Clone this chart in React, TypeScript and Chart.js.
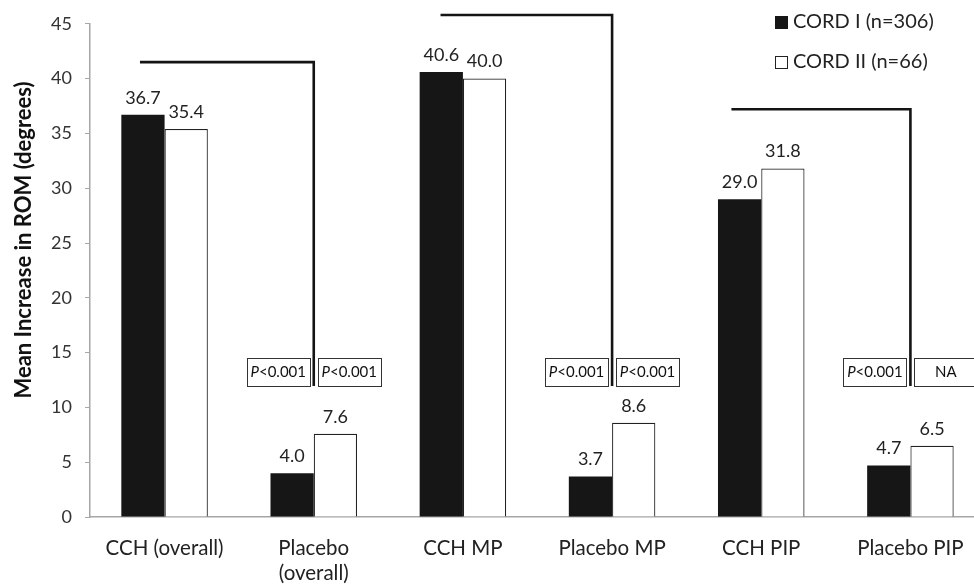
import { useEffect, useRef } from 'react';
import { Chart, registerables } from 'chart.js';

Chart.register(...registerables);

const FONT = 'Lato, "Open Sans", sans-serif';

const categories: string[][] = [
  ['CCH (overall)'],
  ['Placebo', '(overall)'],
  ['CCH MP'],
  ['Placebo MP'],
  ['CCH PIP'],
  ['Placebo PIP'],
];
const cord1Values = [36.7, 4.0, 40.6, 3.7, 29.0, 4.7];
const cord2Values = [35.4, 7.6, 40.0, 8.6, 31.8, 6.5];
const seriesNames = ['CORD I (n=306)', 'CORD II (n=66)'];
const yTickValues = [0, 5, 10, 15, 20, 25, 30, 35, 40, 45];
const yAxisTitle = 'Mean Increase in ROM (degrees)';

// comparison brackets: from CCH category to its placebo category
const bracketPairs = [
  [0, 1],
  [2, 3],
  [4, 5],
];
const bracketHeights = [41.5, 45.8, 37.2];
const bracketBottom = 11.95;
const boxTop = 14.5;
const pLabelsCord1 = ['P<0.001', 'P<0.001', 'P<0.001'];
const pLabelsCord2 = ['P<0.001', 'P<0.001', 'NA'];

const bracketStartOffsets = [-0.165, -0.15, -0.2];

function drawPLabel(ctx: CanvasRenderingContext2D, text: string, cx: number, cy: number) {
  ctx.textBaseline = 'middle';
  ctx.textAlign = 'left';
  const size = 15;
  if (text.startsWith('P')) {
    const rest = text.slice(1);
    ctx.font = `italic ${size}px ${FONT}`;
    const wP = ctx.measureText('P').width;
    ctx.font = `${size}px ${FONT}`;
    const wR = ctx.measureText(rest).width;
    const x0 = cx - (wP + wR) / 2;
    ctx.font = `italic ${size}px ${FONT}`;
    ctx.fillText('P', x0, cy);
    ctx.font = `${size}px ${FONT}`;
    ctx.fillText(rest, x0 + wP, cy);
  } else {
    ctx.font = `${size}px ${FONT}`;
    ctx.textAlign = 'center';
    ctx.fillText(text, cx, cy);
  }
}

const annotationPlugin = {
  id: 'annotations',
  afterDatasetsDraw(chart: any) {
    const ctx: CanvasRenderingContext2D = chart.ctx;
    const xs = chart.scales.x;
    const ys = chart.scales.y;
    ctx.save();
    // value labels
    ctx.font = `18px ${FONT}`;
    ctx.fillStyle = '#222';
    ctx.textAlign = 'center';
    ctx.textBaseline = 'middle';
    chart.data.datasets.forEach((ds: any, di: number) => {
      const meta = chart.getDatasetMeta(di);
      meta.data.forEach((el: any, i: number) => {
        ctx.fillText(Number(ds.data[i]).toFixed(1), el.x, el.y - 17);
      });
    });

    // brackets and p-value boxes
    const catW = xs.getPixelForValue(1) - xs.getPixelForValue(0);
    const boxW = 63;
    const gap = 4;
    bracketPairs.forEach(([a, b], k) => {
      const xStart = xs.getPixelForValue(a) + bracketStartOffsets[k] * catW;
      const xEnd = xs.getPixelForValue(b);
      const yh = ys.getPixelForValue(bracketHeights[k]);
      const yb = ys.getPixelForValue(bracketBottom);
      ctx.beginPath();
      ctx.lineWidth = 2.6;
      ctx.strokeStyle = '#141414';
      ctx.lineJoin = 'miter';
      ctx.moveTo(xStart, yh);
      ctx.lineTo(xEnd, yh);
      ctx.lineTo(xEnd, yb);
      ctx.stroke();

      const bt = ys.getPixelForValue(boxTop);
      const bb = ys.getPixelForValue(bracketBottom);
      ctx.lineWidth = 1;
      ctx.strokeStyle = '#333';
      ctx.fillStyle = '#fff';
      const l1 = xEnd - gap - boxW;
      const l2 = xEnd + gap;
      [l1, l2].forEach((lx) => {
        ctx.fillRect(lx, bt, boxW, bb - bt);
        ctx.strokeRect(Math.round(lx) + 0.5, Math.round(bt) + 0.5, boxW, Math.round(bb - bt));
      });
      ctx.fillStyle = '#111';
      drawPLabel(ctx, pLabelsCord1[k], l1 + boxW / 2, (bt + bb) / 2);
      drawPLabel(ctx, pLabelsCord2[k], l2 + boxW / 2, (bt + bb) / 2);
    });
    ctx.restore();
  },
  afterDraw(chart: any) {
    const ctx: CanvasRenderingContext2D = chart.ctx;
    ctx.save();
    // legend
    const colors = ['#161616', '#ffffff'];
    const rowsY = [22, 62];
    seriesNames.forEach((name, i) => {
      const y = rowsY[i];
      ctx.fillStyle = colors[i];
      ctx.fillRect(775, y - 6, 13, 13);
      if (i === 1) {
        ctx.strokeStyle = '#222';
        ctx.lineWidth = 1;
        ctx.strokeRect(775.5, y - 5.5, 12, 12);
      }
      ctx.fillStyle = '#222';
      ctx.font = `20px ${FONT}`;
      ctx.textAlign = 'left';
      ctx.textBaseline = 'middle';
      ctx.fillText(name, 793, y);
    });
    // y axis title
    ctx.translate(24, 240);
    ctx.rotate(-Math.PI / 2);
    ctx.font = `bold 22px ${FONT}`;
    ctx.fillStyle = '#111';
    ctx.textAlign = 'center';
    ctx.textBaseline = 'middle';
    ctx.fillText(yAxisTitle, 0, 0);
    ctx.restore();
  },
};

export default function App() {
  const canvasRef = useRef<HTMLCanvasElement | null>(null);

  useEffect(() => {
    document.body.style.margin = '0';
    document.body.style.overflow = 'hidden';
    const canvas = canvasRef.current;
    if (!canvas) return;
    const chart = new Chart(canvas, {
      type: 'bar',
      data: {
        labels: categories,
        datasets: [
          {
            label: seriesNames[0],
            data: cord1Values,
            backgroundColor: '#161616',
            borderWidth: 0,
            categoryPercentage: 0.58,
            barPercentage: 1.0,
          },
          {
            label: seriesNames[1],
            data: cord2Values,
            backgroundColor: '#ffffff',
            borderColor: '#222',
            borderWidth: 1.2,
            categoryPercentage: 0.58,
            barPercentage: 1.0,
          },
        ],
      },
      options: {
        animation: false,
        responsive: true,
        maintainAspectRatio: false,
        layout: { padding: { top: 23, right: 5, left: 0, bottom: 0 } },
        plugins: {
          legend: { display: false },
          tooltip: { enabled: false },
        },
        scales: {
          x: {
            grid: { display: false, drawTicks: false },
            border: { color: '#a6a6a6', width: 1.5 },
            ticks: {
              font: { family: FONT, size: 20.5, lineHeight: 1.22 },
              color: '#222',
              padding: 19,
              maxRotation: 0,
              autoSkip: false,
            },
            afterFit: (s: any) => {
              s.height = 69;
            },
          },
          y: {
            min: 0,
            max: 45,
            afterBuildTicks: (s: any) => {
              s.ticks = yTickValues.map((v) => ({ value: v }));
            },
            ticks: {
              font: { family: FONT, size: 18 },
              color: '#333',
              padding: 13,
            },
            grid: {
              drawOnChartArea: false,
              drawTicks: true,
              tickLength: 5,
              color: '#a6a6a6',
            },
            border: { color: '#a6a6a6', width: 1.5 },
            afterFit: (s: any) => {
              s.width = 90;
            },
          },
        },
      },
      plugins: [annotationPlugin],
    });
    return () => chart.destroy();
  }, []);

  return (
    <div style={{ width: 974, height: 586, overflow: 'hidden', position: 'relative', background: '#fff' }}>
      <div style={{ width: 990, height: 586, position: 'relative' }}>
        <canvas ref={canvasRef} />
      </div>
    </div>
  );
}
